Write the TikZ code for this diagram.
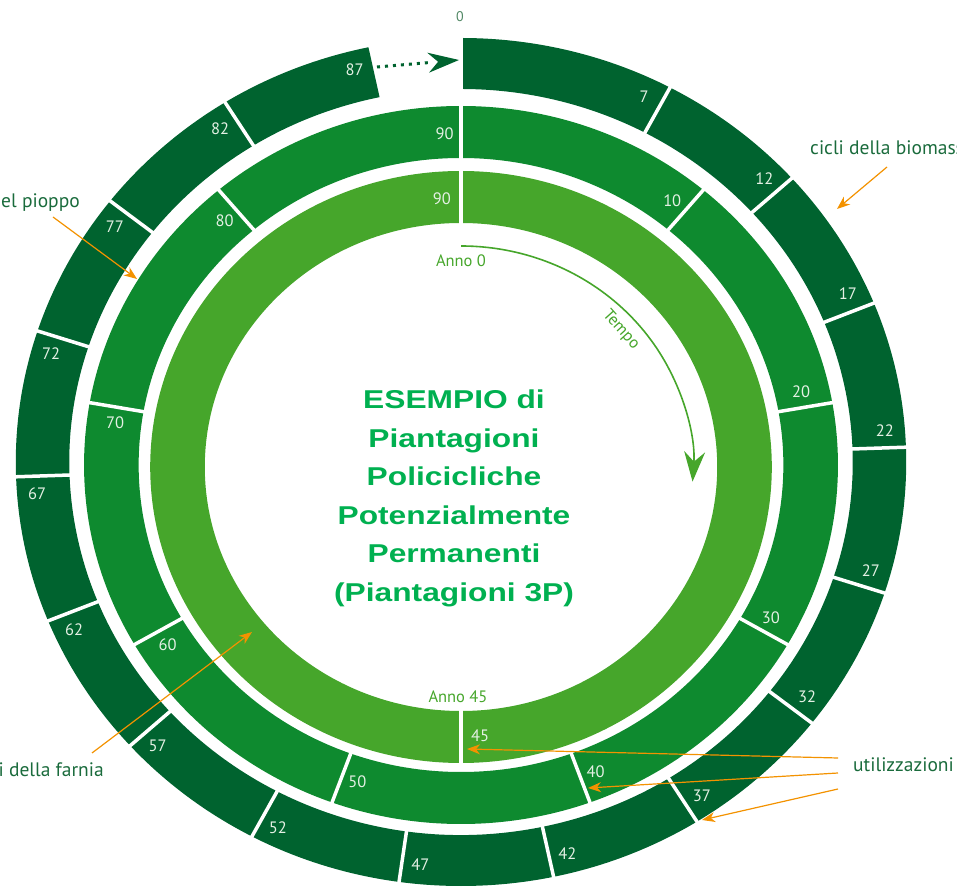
\documentclass[tikz,border=0pt]{standalone}
\usepackage{graphicx}
\usepackage{fontspec}
\setmainfont{PT Sans}
\newfontfamily\titlefont{Liberation Sans}
\usetikzlibrary{arrows.meta}
\definecolor{ringA}{RGB}{0,99,47}
\definecolor{ringB}{RGB}{14,138,47}
\definecolor{ringC}{RGB}{70,166,43}
\definecolor{titlegreen}{RGB}{0,176,80}
\definecolor{labelgreen}{RGB}{26,107,60}
\definecolor{numwhite}{RGB}{228,240,228}
\definecolor{arroworange}{RGB}{243,146,0}
\definecolor{zerogreen}{RGB}{80,135,100}
\begin{document}
\begin{tikzpicture}[x=1pt,y=1pt,
  numlbl/.style={text=numwhite, font=\fontsize{16.5}{17}\selectfont, inner sep=0pt},
  sidelbl/.style={text=labelgreen, font=\fontsize{19.5}{20}\selectfont, inner sep=0pt},
  innerlbl/.style={text=ringC, font=\fontsize{16.5}{17}\selectfont, inner sep=0pt},
  titleline/.style={text=titlegreen, font=\titlefont\bfseries\fontsize{25.8}{30}\selectfont, inner sep=0pt, anchor=base},
  divider/.style={white, line width=3.5pt},
  callout/.style={arroworange, line width=1.2pt, -{Stealth[length=13pt,width=10pt,inset=4pt]}},
]
\useasboundingbox (0,0) rectangle (957,893);
\clip (0,0) rectangle (957,893);

% ---------- outer ring: biomass cycles ----------
\begin{scope}[shift={(461,431)}, xscale=1.05]
  \fill[ringA] (90:424) arc[start angle=90, end angle=-258, radius=424]
     -- (-258:373) arc[start angle=-258, end angle=90, radius=373] -- cycle;
  \draw[divider] (90:370) -- (90:427);
  \foreach \yr in {7,12,...,82}
    \draw[divider] ({90-4*\yr}:370) -- ({90-4*\yr}:427);
  \foreach \yr in {7,12,...,87}
    \node[numlbl] (o\yr) at ({90-4*\yr+2.5}:405) {\yr};
\end{scope}

% ---------- middle ring: poplar cycles ----------
\begin{scope}[shift={(461,428)}, xscale=1.05]
  \fill[ringB, even odd rule] (0,0) circle[radius=359] (0,0) circle[radius=307];
  \foreach \yr in {10,20,...,90}
    \draw[divider] ({90-4*\yr}:304) -- ({90-4*\yr}:362);
  \foreach \yr in {10,20,...,90}
    \node[numlbl] (m\yr) at ({90-4*\yr+2.7}:332) {\yr};
\end{scope}

% ---------- inner ring: oak cycle ----------
\begin{scope}[shift={(461,426)}, xscale=1.05]
  \fill[ringC, even odd rule] (0,0) circle[radius=296] (0,0) circle[radius=244];
  \draw[divider] (90:241) -- (90:299);
  \draw[divider] (-90:241) -- (-90:299);
  \node[numlbl] (i90) at (93.9:269) {90};
  \node[numlbl] (i45) at (-86.1:269) {45};
  \coordinate (tempoS) at (90:221);
  \draw[ringC, line width=1.6pt, -{Stealth[length=30pt,width=21pt,inset=10pt]}]
    (tempoS) arc[start angle=90, end angle=-3.8, radius=221];
\end{scope}

\node[innerlbl] (anno0) at (461,632) {Anno 0};
\node[innerlbl] (anno45) at (458,196) {Anno 45};
\node[innerlbl, rotate=-48] (tempo) at (621,563) {Tempo};

% ---------- top: 0 and dotted return arrow ----------
\node[text=zerogreen, font=\fontsize{14}{14}\selectfont, inner sep=0pt] (zero) at (460,876) {0};
\coordinate (dotS) at (377,826);
\coordinate (dotM) at (430,830.5);
\coordinate (dotE) at (459,833);
\draw[ringA, line width=3pt, dash pattern=on 3pt off 5pt] (dotS) -- (dotM);
\fill[ringA] (dotE) -- (427.2,840.3) -- (438.1,831.2) -- (429.0,820.3) -- cycle;

% ---------- title ----------
\node[titleline] (t1) at (454,484) {\scalebox{1.23}[1]{ESEMPIO di}};
\node[titleline] (t2) at (454,445.5) {\scalebox{1.23}[1]{Piantagioni}};
\node[titleline] (t3) at (454,407) {\scalebox{1.23}[1]{Policicliche}};
\node[titleline] (t4) at (454,368.5) {\scalebox{1.23}[1]{Potenzialmente}};
\node[titleline] (t5) at (454,330) {\scalebox{1.23}[1]{Permanenti}};
\node[titleline] (t6) at (454,291.5) {\scalebox{1.23}[1]{(Piantagioni 3P)}};

% ---------- side labels and callouts ----------
\node[sidelbl, anchor=base west] (bio) at (810,738) {cicli della biomassa};
\coordinate (bioS) at (887,726);
\coordinate (bioT) at (837,684);
\draw[callout] (bioS) -- (bioT);

\node[sidelbl, anchor=base east] (pioppo) at (80,685) {cicli del pioppo};
\coordinate (pioS) at (53,676);
\coordinate (pioT) at (137,614);
\draw[callout] (pioS) -- (pioT);

\node[sidelbl, anchor=base east] (farnia) at (104,116) {cicli della farnia};
\coordinate (farS) at (92,140);
\coordinate (farT) at (252,261);
\draw[callout] (farS) -- (farT);

\node[sidelbl, anchor=base west] (util) at (853,121) {utilizzazioni};
\coordinate (utS1) at (838,135);
\coordinate (utT1) at (467,144);
\coordinate (utS2) at (838,120);
\coordinate (utT2) at (588,105);
\coordinate (utS3) at (838,104);
\coordinate (utT3) at (702,73);
\draw[callout] (utS1) -- (utT1);
\draw[callout] (utS2) -- (utT2);
\draw[callout] (utS3) -- (utT3);
\end{tikzpicture}
\end{document}
